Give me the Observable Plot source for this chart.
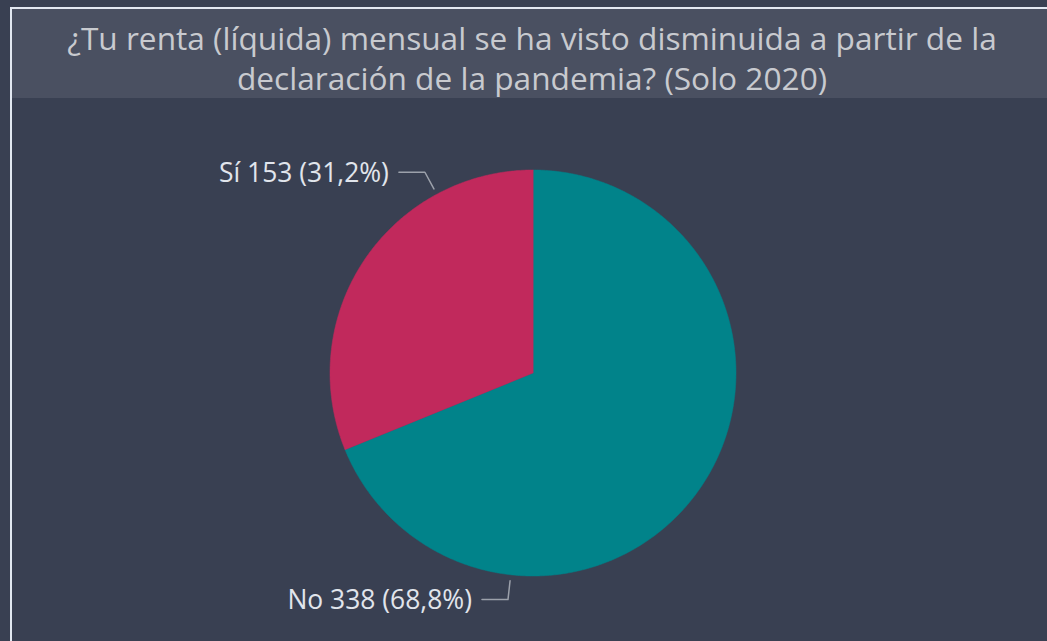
<!DOCTYPE html>
<html>
<head>
<meta charset="utf-8">
<script src="https://cdn.jsdelivr.net/npm/d3@7"></script>
<script src="https://cdn.jsdelivr.net/npm/@observablehq/plot@0.6"></script>
<style>
html, body { margin:0; padding:0; background:#394052; width:1047px; height:641px; overflow:hidden; font-family:"Open Sans", sans-serif; }
#frame { position:absolute; left:10px; top:7px; width:1100px; height:700px; border-left:2px solid #e2e8f1; border-top:2px solid #e2e8f1; box-sizing:border-box; }
#title { position:absolute; left:12px; top:9px; width:1040px; height:89px; background:#4a5061; color:#c8cacf; text-align:center; line-height:40px; white-space:nowrap; }
#chart { position:absolute; left:0; top:98px; }
</style>
</head>
<body>
<div id="frame"></div>
<div id="title"></div>
<div id="chart"></div>
<script>
// ---- data ----
const titleLines = ["¿Tu renta (líquida) mensual se ha visto disminuida a partir de la", "declaración de la pandemia? (Solo 2020)"];
const categories = ["No", "Sí"];
const counts = [338, 153];
const colors = ["#01838a", "#c1295c"];

// ---- layout ----
const W = 1047, H = 543;
const cx = 532.5, cy = 274.5, R = 203;
const labelAngleDeg = {"No": 186.3, "Sí": 331.7};

function fitSize(text, font, target) {
  const c = document.createElement("canvas").getContext("2d");
  c.font = `100px ${font}`;
  return 100 * target / c.measureText(text).width;
}

// title
const titleFont = '"Open Sans"';
const tSize = fitSize(titleLines[0], titleFont, 930);
const tEl = document.getElementById("title");
tEl.style.fontSize = tSize + "px";
tEl.style.paddingTop = "9px";
tEl.style.boxSizing = "border-box";
tEl.innerHTML = titleLines.map(s => `<div>${s}</div>`).join("");

const total = d3.sum(counts);
const fmtPct = v => (Math.round(v * 1000) / 10).toFixed(1).replace(".", ",") + "%";
const rows = categories.map((c, i) => ({cat: c, n: counts[i], label: `${c} ${counts[i]} (${fmtPct(counts[i] / total)})`}));

const arcs = d3.pie().sort(null).value(d => d.n).startAngle(0).endAngle(2 * Math.PI)(rows);
const slicePts = [];
for (const a of arcs) {
  slicePts.push({cat: a.data.cat, x: 0, y: 0});
  const steps = Math.max(2, Math.ceil((a.endAngle - a.startAngle) / (Math.PI / 360)));
  for (let k = 0; k <= steps; k++) {
    const t = a.startAngle + (a.endAngle - a.startAngle) * k / steps;
    slicePts.push({cat: a.data.cat, x: Math.sin(t), y: Math.cos(t)});
  }
}

const leaderPts = [];
const labelPts = [];
for (const r of rows) {
  const t = labelAngleDeg[r.cat] * Math.PI / 180;
  const r1 = (R + 6) / R, r2 = (R + 25) / R;
  const ex = Math.sin(t) * r2, ey = Math.cos(t) * r2;
  leaderPts.push({cat: r.cat, x: Math.sin(t) * r1, y: Math.cos(t) * r1});
  leaderPts.push({cat: r.cat, x: ex, y: ey});
  leaderPts.push({cat: r.cat, x: ex - 26 / R, y: ey});
  labelPts.push({cat: r.cat, label: r.label, x: ex - 26 / R, y: ey});
}

const labelFont = '"Open Sans"';
const lSize = fitSize(rows[1].label, labelFont, 170);

const chart = Plot.plot({
  width: W, height: H,
  margin: 0,
  style: {background: "transparent", fontFamily: "Open Sans"},
  x: {domain: [-1, 1], range: [cx - R, cx + R], axis: null},
  y: {domain: [-1, 1], range: [cy + R, cy - R], axis: null},
  color: {domain: categories, range: colors},
  marks: [
    Plot.line(slicePts, {x: "x", y: "y", z: "cat", fill: "cat", stroke: "cat", strokeWidth: 0.5, curve: "linear-closed"}),
    Plot.line(leaderPts, {x: "x", y: "y", z: "cat", stroke: "#9ca1ab", strokeWidth: 1.5}),
    Plot.text(labelPts, {x: "x", y: "y", text: "label", textAnchor: "end", dx: -10, dy: 1, fill: "#e1e5ec", fontSize: lSize})
  ]
});
document.getElementById("chart").appendChild(chart);
</script>
</body>
</html>
